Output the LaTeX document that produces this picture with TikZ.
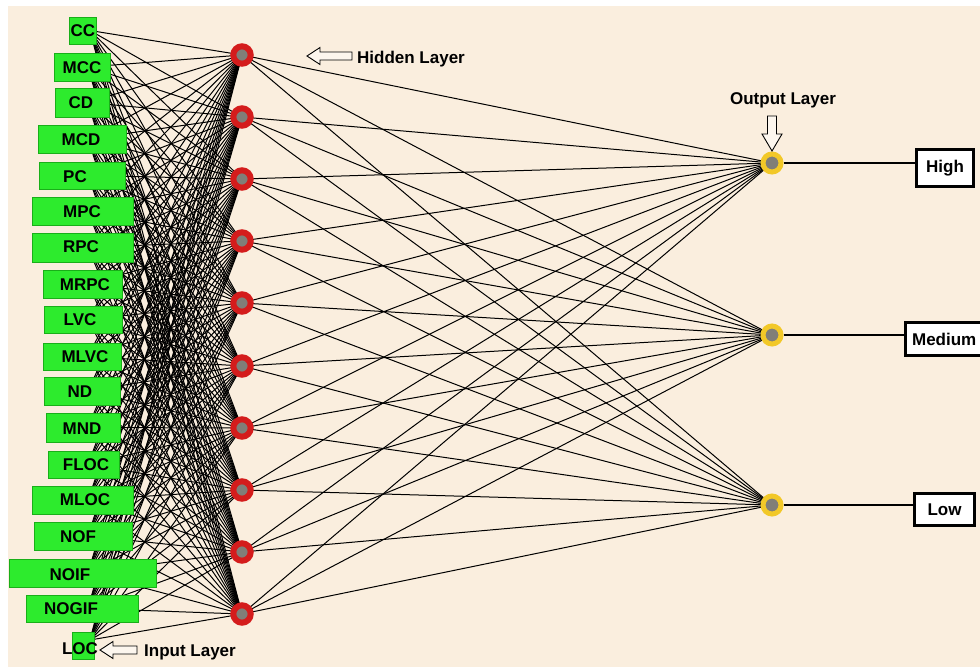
\documentclass[tikz,border=0pt]{standalone}
\usepackage{fontspec}
\setmainfont{Liberation Sans}
\pgfdeclarelayer{back}
\pgfdeclarelayer{wires}
\pgfsetlayers{back,wires,main}
\definecolor{cream}{RGB}{250,238,222}
\definecolor{ingreen}{RGB}{45,235,45}
\definecolor{ingreenD}{RGB}{25,175,25}
\definecolor{hred}{RGB}{212,28,28}
\definecolor{ngray}{RGB}{128,126,120}
\definecolor{oyel}{RGB}{242,200,40}
\begin{document}
\begin{tikzpicture}[x=1pt,y=-1pt,
  inbox/.style={draw=ingreenD, fill=ingreen, line width=0.6pt, inner sep=0pt},
  lab/.style={font=\fontsize{17}{20}\selectfont\bfseries, inner sep=0pt, text=black},
  hid/.style={circle, draw=hred, line width=6pt, fill=ngray, minimum size=17.4pt, inner sep=0pt},
  outn/.style={circle, draw=oyel, line width=5pt, fill=ngray, minimum size=18pt, inner sep=0pt},
  obox/.style={draw=black, line width=3.2pt, fill=white, inner sep=0pt, font=\fontsize{17}{20}\selectfont\bfseries},
  wire/.style={line width=1pt, black},
  hollow/.style={draw=black, line width=0.9pt, fill=white!50!cream, line join=miter}]
\useasboundingbox (0,0) rectangle (980,671);
\begin{pgfonlayer}{back}
  \fill[white] (0,0) rectangle (980,671);
  \fill[cream] (8,6) rectangle (980,667);
\end{pgfonlayer}

% wire origins of the input layer
\coordinate (a1) at (90,30.5);
\coordinate (a2) at (88,67);
\coordinate (a3) at (88,102.5);
\coordinate (a4) at (88,139);
\coordinate (a5) at (88,175.5);
\coordinate (a6) at (88,211);
\coordinate (a7) at (88,247.5);
\coordinate (a8) at (88,284);
\coordinate (a9) at (88,319.5);
\coordinate (a10) at (88,356.5);
\coordinate (a11) at (88,391);
\coordinate (a12) at (88,427.5);
\coordinate (a13) at (88,464.5);
\coordinate (a14) at (88,500);
\coordinate (a15) at (88,536);
\coordinate (a16) at (88,573);
\coordinate (a17) at (88,608.5);
\coordinate (a18) at (90,640);

% input boxes
\node[inbox, minimum width=27pt, minimum height=27pt] (in1) at (82.5,30.5) {};
\node[inbox, minimum width=56pt, minimum height=28pt] (in2) at (82,67) {};
\node[inbox, minimum width=54pt, minimum height=29pt] (in3) at (82,102.5) {};
\node[inbox, minimum width=88pt, minimum height=28pt] (in4) at (82,139) {};
\node[inbox, minimum width=86pt, minimum height=27pt] (in5) at (82,175.5) {};
\node[inbox, minimum width=101pt, minimum height=28pt] (in6) at (82.5,211) {};
\node[inbox, minimum width=101pt, minimum height=29pt] (in7) at (82.5,247.5) {};
\node[inbox, minimum width=79pt, minimum height=28pt] (in8) at (82.5,284) {};
\node[inbox, minimum width=78pt, minimum height=27pt] (in9) at (83,319.5) {};
\node[inbox, minimum width=78pt, minimum height=27pt] (in10) at (82,356.5) {};
\node[inbox, minimum width=76pt, minimum height=28pt] (in11) at (82,391) {};
\node[inbox, minimum width=74pt, minimum height=29pt] (in12) at (83,427.5) {};
\node[inbox, minimum width=71pt, minimum height=27pt] (in13) at (83.5,464.5) {};
\node[inbox, minimum width=101pt, minimum height=28pt] (in14) at (82.5,500) {};
\node[inbox, minimum width=98pt, minimum height=28pt] (in15) at (83,536) {};
\node[inbox, minimum width=147pt, minimum height=28pt] (in16) at (82.5,573) {};
\node[inbox, minimum width=112pt, minimum height=27pt] (in17) at (82,608.5) {};
\node[inbox, minimum width=22pt, minimum height=27pt] (in18) at (83,645.5) {};

% input labels
\node[lab] (t1) at (83,31) {CC};
\node[lab] (t2) at (82,68) {MCC};
\node[lab] (t3) at (81,103) {CD};
\node[lab] (t4) at (81,139.5) {MCD};
\node[lab] (t5) at (75,177) {PC};
\node[lab] (t6) at (82,212) {MPC};
\node[lab] (t7) at (81,247) {RPC};
\node[lab] (t8) at (85,285) {MRPC};
\node[lab] (t9) at (80,320) {LVC};
\node[lab] (t10) at (85,357) {MLVC};
\node[lab] (t11) at (80,392) {ND};
\node[lab] (t12) at (82,429) {MND};
\node[lab] (t13) at (86,465) {FLOC};
\node[lab] (t14) at (85,500) {MLOC};
\node[lab] (t15) at (78,537) {NOF};
\node[lab] (t16) at (70,575) {NOIF};
\node[lab] (t17) at (71,609) {NOGIF};
\node[lab] (t18) at (80,649) {LOC};

% hidden layer
\foreach \j/\y in {1/55,2/117,3/179,4/241,5/303,6/366,7/428,8/490,9/552,10/614}
  \node[hid] (h\j) at (242,\y) {};

% output layer
\node[outn] (o1) at (772,163) {};
\node[outn] (o2) at (772,335) {};
\node[outn] (o3) at (772,505) {};

% output boxes
\node[obox, minimum width=57pt, minimum height=37pt] (high) at (945,168) {High};
\node[obox, anchor=west, inner xsep=7pt, minimum height=33pt] (medium) at (903.5,339) {Medium};
\node[obox, minimum width=60pt, minimum height=32pt] (low) at (944.5,509.5) {Low};

% connectors
\begin{pgfonlayer}{wires}
  \foreach \i in {1,...,18}
    \foreach \j in {1,...,10}
      \draw[wire] (a\i) -- (h\j.center);
  \foreach \j in {1,...,10}
    \foreach \k in {1,2,3}
      \draw[wire] (h\j.center) -- (o\k.center);
\end{pgfonlayer}
\draw[wire, line width=1.1pt] (o1.east) -- (o1.east -| high.west);
\draw[wire, line width=1.1pt] (o2.east) -- (o2.east -| medium.west);
\draw[wire, line width=1.1pt] (o3.east) -- (o3.east -| low.west);

% layer captions
\node[lab] (hcap) at (411,59) {Hidden Layer};
\node[lab] (ocap) at (783,100) {Output Layer};
\node[lab] (icap) at (190,652) {Input Layer};

% hollow pointer arrows
\coordinate (hp) at (307,56);
\draw[hollow] (hp) -- ++(13,-8.5) -- ++(0,4.5) -- ++(32,0) -- ++(0,8) -- ++(-32,0) -- ++(0,4.5) -- cycle;
\coordinate (ip) at (100,650);
\draw[hollow] (ip) -- ++(13,-8.5) -- ++(0,4.5) -- ++(24,0) -- ++(0,8) -- ++(-24,0) -- ++(0,4.5) -- cycle;
\coordinate (op) at (772,151);
\draw[hollow] (op) -- ++(-10,-17) -- ++(5.5,0) -- ++(0,-18) -- ++(9,0) -- ++(0,18) -- ++(5.5,0) -- cycle;
\end{tikzpicture}
\end{document}
